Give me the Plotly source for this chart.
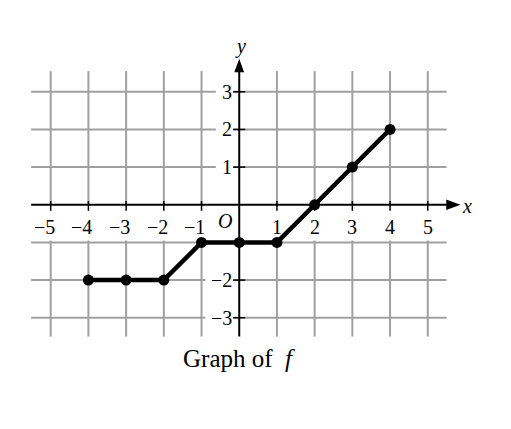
import plotly.graph_objects as go

# Data
x_vals = [-4, -3, -2, -1, 0, 1, 2, 3, 4]
y_vals = [-2, -2, -2, -1, -1, -1, 0, 1, 2]
x_ticks = [-5, -4, -3, -2, -1, 1, 2, 3, 4, 5]
y_ticks = [-3, -2, -1, 1, 2, 3]
caption = "Graph of  <i>f</i>"

GRID = "#a0a0a0"
FONT = "Liberation Serif"
X_MIN, X_MAX = -5.52, 5.5
Y_MIN, Y_MAX = -3.5, 3.55

shapes = []
# vertical grid lines (gap in the label band below the x-axis)
for xv in x_ticks:
    shapes.append(dict(type="line", x0=xv, x1=xv, y0=0, y1=Y_MAX,
                       line=dict(color=GRID, width=2), layer="below"))
    shapes.append(dict(type="line", x0=xv, x1=xv, y0=Y_MIN, y1=-0.95,
                       line=dict(color=GRID, width=2), layer="below"))
# horizontal grid lines (gap where y labels sit)
for yv in y_ticks:
    if yv == -1:
        shapes.append(dict(type="line", x0=X_MIN, x1=X_MAX, y0=yv, y1=yv,
                           line=dict(color=GRID, width=2), layer="below"))
        continue
    gap_left = -0.9 if yv < 0 else -0.62
    shapes.append(dict(type="line", x0=X_MIN, x1=gap_left, y0=yv, y1=yv,
                       line=dict(color=GRID, width=2), layer="below"))
    shapes.append(dict(type="line", x0=-0.16, x1=X_MAX, y0=yv, y1=yv,
                       line=dict(color=GRID, width=2), layer="below"))

# axes
shapes.append(dict(type="line", x0=X_MIN, x1=5.55, y0=0, y1=0,
                   line=dict(color="black", width=2), layer="below"))
shapes.append(dict(type="line", x0=0, x1=0, y0=Y_MIN, y1=3.6,
                   line=dict(color="black", width=2), layer="below"))
# arrow heads
shapes.append(dict(type="path", path="M 5.49 0.14 L 5.87 0 L 5.49 -0.14 Z",
                   fillcolor="black", line=dict(width=0), layer="below"))
shapes.append(dict(type="path", path="M -0.13 3.52 L 0 3.88 L 0.13 3.52 Z",
                   fillcolor="black", line=dict(width=0), layer="below"))
# tick marks
for xv in x_ticks:
    shapes.append(dict(type="line", x0=xv, x1=xv, y0=-0.16, y1=0.1,
                       line=dict(color="black", width=1.5), layer="below"))
for yv in y_ticks:
    shapes.append(dict(type="line", x0=-0.16, x1=0.16, y0=yv, y1=yv,
                       line=dict(color="black", width=1.5), layer="below"))

annotations = []
for xv in x_ticks:
    txt = f"\u2212{abs(xv)}" if xv < 0 else str(xv)
    if xv < 0:
        annotations.append(dict(x=xv + 0.13, y=-0.58, text=txt, showarrow=False,
                                xanchor="right", yanchor="middle"))
    else:
        annotations.append(dict(x=xv, y=-0.58, text=txt, showarrow=False,
                                xanchor="center", yanchor="middle"))
for yv in y_ticks:
    if yv == -1:
        continue
    txt = f"\u2212{abs(yv)}" if yv < 0 else str(yv)
    annotations.append(dict(x=-0.17, y=yv, text=txt, showarrow=False,
                            xanchor="right", yanchor="middle"))
annotations.append(dict(x=-0.39, y=-0.42, text="<i>O</i>", showarrow=False,
                        xanchor="center", yanchor="middle"))
annotations.append(dict(x=6.04, y=-0.03, text="<i>x</i>", showarrow=False,
                        xanchor="center", yanchor="middle"))
annotations.append(dict(x=0.03, y=4.2, text="<i>y</i>", showarrow=False,
                        xanchor="center", yanchor="middle"))
annotations.append(dict(x=0, y=-4.07, text=caption, showarrow=False,
                        xanchor="center", yanchor="middle", font=dict(size=25)))
for a in annotations:
    a.setdefault("font", {})
    a["font"].setdefault("size", 20)
    a["font"]["family"] = FONT
    a["font"]["color"] = "black"
    a["borderpad"] = 0

fig = go.Figure()
fig.add_trace(go.Scatter(x=x_vals, y=y_vals, mode="lines+markers",
                         line=dict(color="black", width=4.5),
                         marker=dict(color="black", size=11),
                         showlegend=False, hoverinfo="skip"))

fig.update_layout(
    width=511, height=429,
    margin=dict(l=5, r=46, t=16, b=59),
    paper_bgcolor="white", plot_bgcolor="white",
    xaxis=dict(range=[-6, 6.2], visible=False, fixedrange=True),
    yaxis=dict(range=[-4.6, 4.8], visible=False, fixedrange=True),
    shapes=shapes, annotations=annotations,
    font=dict(family=FONT),
)
fig.write_html("out.html")
